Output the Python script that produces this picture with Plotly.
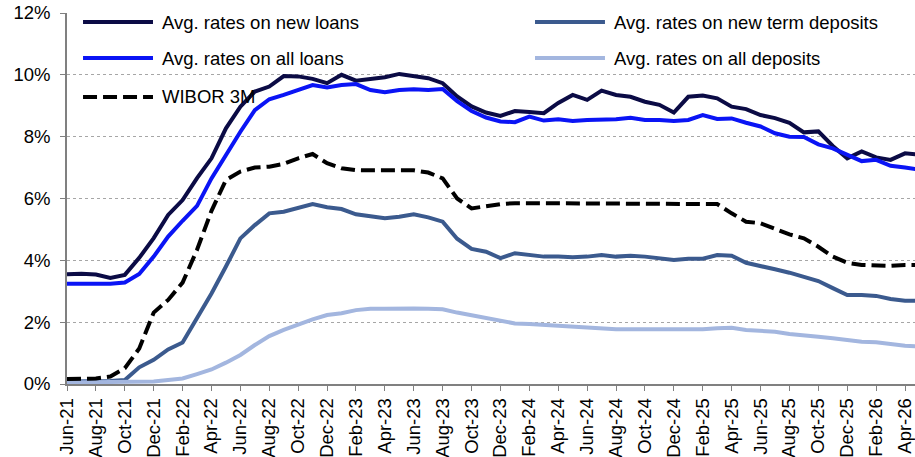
import plotly.graph_objects as go

months = ["Jun-21","Jul-21","Aug-21","Sep-21","Oct-21","Nov-21","Dec-21","Jan-22","Feb-22","Mar-22",
          "Apr-22","May-22","Jun-22","Jul-22","Aug-22","Sep-22","Oct-22","Nov-22","Dec-22","Jan-23",
          "Feb-23","Mar-23","Apr-23","May-23","Jun-23","Jul-23","Aug-23","Sep-23","Oct-23","Nov-23",
          "Dec-23","Jan-24","Feb-24","Mar-24","Apr-24","May-24","Jun-24","Jul-24","Aug-24","Sep-24",
          "Oct-24","Nov-24","Dec-24","Jan-25","Feb-25","Mar-25","Apr-25","May-25","Jun-25","Jul-25",
          "Aug-25","Sep-25","Oct-25","Nov-25","Dec-25","Jan-26","Feb-26","Mar-26","Apr-26","May-26"]

new_loans = [3.55,3.57,3.54,3.43,3.53,4.08,4.72,5.47,5.95,6.66,
             7.30,8.27,8.97,9.46,9.62,9.96,9.95,9.87,9.73,10.00,
             9.81,9.85,9.92,10.03,9.97,9.89,9.73,9.30,8.98,8.78,
             8.67,8.83,8.80,8.76,9.09,9.35,9.19,9.49,9.35,9.29,
             9.13,9.03,8.78,9.29,9.33,9.24,8.97,8.89,8.70,8.60,
             8.45,8.14,8.17,7.70,7.30,7.52,7.33,7.25,7.46,7.42]

new_term_deposits = [0.08,0.08,0.09,0.10,0.13,0.54,0.78,1.12,1.34,2.13,
                     2.93,3.80,4.71,5.14,5.52,5.57,5.68,5.82,5.72,5.66,
                     5.49,5.41,5.36,5.41,5.49,5.39,5.25,4.70,4.37,4.28,
                     4.07,4.23,4.17,4.12,4.12,4.10,4.12,4.17,4.12,4.15,
                     4.12,4.08,4.01,4.05,4.05,4.17,4.15,3.92,3.80,3.71,
                     3.60,3.47,3.33,3.10,2.88,2.88,2.85,2.75,2.69,2.69]

all_loans = [3.24,3.23,3.23,3.24,3.28,3.56,4.12,4.77,5.28,5.76,
             6.65,7.41,8.16,8.86,9.21,9.35,9.51,9.67,9.59,9.67,
             9.70,9.51,9.44,9.51,9.53,9.51,9.54,9.15,8.83,8.62,
             8.49,8.47,8.65,8.52,8.56,8.51,8.54,8.54,8.56,8.61,
             8.54,8.54,8.51,8.54,8.70,8.57,8.59,8.45,8.33,8.11,
             8.00,7.99,7.75,7.62,7.41,7.21,7.25,7.06,7.00,6.93]

all_deposits = [0.05,0.05,0.05,0.05,0.05,0.07,0.08,0.13,0.18,0.32,
                0.47,0.69,0.94,1.26,1.55,1.75,1.93,2.09,2.23,2.29,
                2.39,2.43,2.43,2.45,2.44,2.43,2.42,2.31,2.23,2.13,
                2.04,1.96,1.94,1.91,1.88,1.83,1.82,1.80,1.77,1.77,
                1.77,1.77,1.75,1.75,1.77,1.80,1.82,1.75,1.72,1.69,
                1.62,1.59,1.53,1.48,1.42,1.37,1.35,1.29,1.24,1.21]

wibor_3m = [0.16,0.16,0.18,0.24,0.51,1.15,2.31,2.72,3.28,4.34,
            5.60,6.60,6.87,7.00,7.03,7.12,7.30,7.44,7.14,6.98,
            6.92,6.91,6.91,6.91,6.91,6.84,6.65,6.00,5.68,5.75,
            5.82,5.85,5.85,5.85,5.85,5.85,5.85,5.85,5.85,5.85,
            5.85,5.85,5.85,5.85,5.85,5.82,5.52,5.25,5.20,5.01,
            4.84,4.71,4.44,4.12,3.92,3.85,3.83,3.82,3.85,3.85]

names = ["Avg. rates on new loans", "Avg. rates on new term deposits",
         "Avg. rates on all loans", "Avg. rates on all deposits", "WIBOR 3M"]
series = [new_loans, new_term_deposits, all_loans, all_deposits, wibor_3m]
colors = ["#0B0B45", "#3B5A8E", "#0A14F5", "#A3B6DF", "#000000"]
dashes = ["solid", "solid", "solid", "solid", "14px,6px"]

y_ticks = [0, 2, 4, 6, 8, 10, 12]
y_ticktext = [f"{v}%" for v in y_ticks]

FONT = "Arial, 'Liberation Sans', sans-serif"

fig = go.Figure()
for name, vals, col, dsh in zip(names, series, colors, dashes):
    fig.add_trace(go.Scatter(x=months, y=vals, mode="lines", name=name,
                             line=dict(color=col, width=4, dash=dsh),
                             showlegend=False, cliponaxis=True))

# manual legend (two columns, rows filled left to right)
leg_rows = [0.9757, 0.8787, 0.7736]
leg_cols = [(0.0189, 0.1014, 0.1097), (0.5519, 0.6344, 0.6427)]
for i, (name, col, dsh) in enumerate(zip(names, colors, dashes)):
    r, c = divmod(i, 2)
    x0, x1, xt = leg_cols[c]
    y = leg_rows[r]
    fig.add_shape(type="line", xref="paper", yref="paper", x0=x0, x1=x1, y0=y, y1=y,
                  line=dict(color=col, width=4, dash=dsh))
    fig.add_annotation(xref="paper", yref="paper", x=xt, y=y, text=name, showarrow=False,
                       xanchor="left", yanchor="middle",
                       font=dict(family=FONT, size=18.5, color="#000000"))

fig.update_layout(
    width=915, height=457,
    margin=dict(l=67, r=0, t=13, b=73, autoexpand=False),
    paper_bgcolor="white", plot_bgcolor="white",
    font=dict(family=FONT, size=18.5, color="#000000"),
    showlegend=False,
)
fig.update_xaxes(
    type="category", categoryorder="array", categoryarray=months,
    range=[0, 58.69], tickmode="array", tickvals=months[::2], ticktext=months[::2],
    tickangle=-90, ticks="outside", ticklen=5, tickcolor="#808080",
    showline=True, linecolor="#808080", linewidth=1.5, showgrid=False, zeroline=False,
    tickfont=dict(family=FONT, size=18.5, color="#000000"),
)
fig.update_yaxes(
    range=[0, 12], tickmode="array", tickvals=y_ticks, ticktext=y_ticktext,
    ticks="outside", ticklen=5, tickcolor="#808080", ticklabelstandoff=6,
    showline=True, linecolor="#808080", linewidth=1.5,
    showgrid=True, gridcolor="#A6A6A6", griddash="dot", gridwidth=1, zeroline=False,
    tickfont=dict(family=FONT, size=18.5, color="#000000"),
)

# remove the browser's default 8px body margin so the figure fills the window exactly
fig.write_html("out.html", config={"displayModeBar": False},
               post_script="document.body.style.margin='0';document.body.style.overflow='hidden';")
